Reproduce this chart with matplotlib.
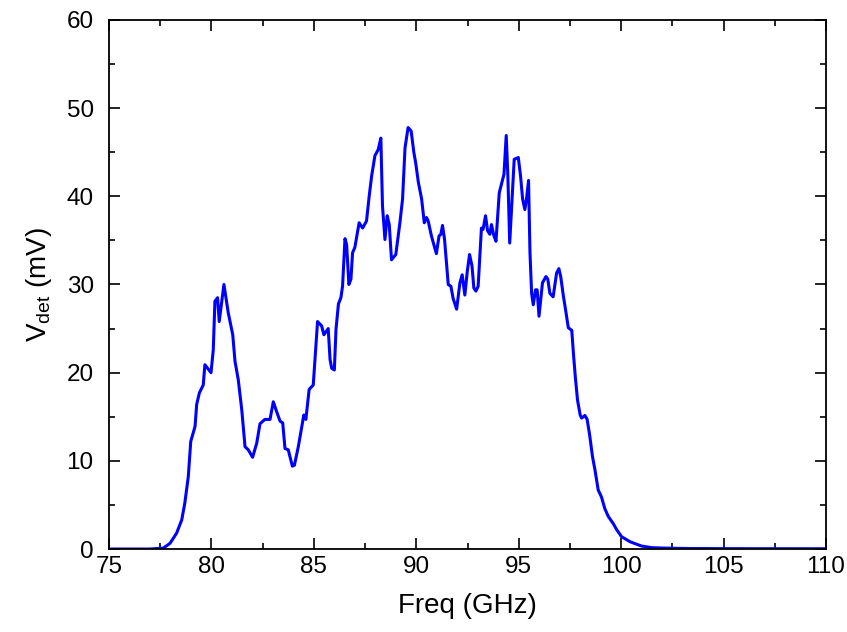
import matplotlib
matplotlib.use("Agg")
import matplotlib.pyplot as plt
from matplotlib.ticker import MultipleLocator

plt.rcParams['font.family'] = ['Liberation Sans', 'DejaVu Sans']
plt.rcParams['mathtext.fontset'] = 'custom'
plt.rcParams['mathtext.rm'] = 'Liberation Sans'
plt.rcParams['mathtext.it'] = 'Liberation Sans:italic'

# detector voltage spectrum
freq = [75.0, 76.0, 77.0, 77.65, 77.98, 78.3, 78.55, 78.7, 78.87, 78.99,
        79.2, 79.28, 79.41, 79.6, 79.68, 79.98, 80.09, 80.17, 80.3, 80.38,
        80.61, 80.82, 81.04, 81.15, 81.31, 81.48, 81.64, 81.8, 82.01, 82.21,
        82.37, 82.61, 82.86, 83.02, 83.18, 83.35, 83.48, 83.59, 83.75, 83.95,
        84.05, 84.24, 84.4, 84.51, 84.61, 84.77, 84.97, 85.18, 85.38, 85.49,
        85.7, 85.79, 85.87, 86.0, 86.08, 86.2, 86.32, 86.4, 86.52, 86.6,
        86.71, 86.81, 86.89, 87.0, 87.21, 87.38, 87.57, 87.7, 87.82, 87.98,
        88.14, 88.27, 88.35, 88.47, 88.58, 88.68, 88.79, 89.0, 89.2, 89.33,
        89.45, 89.6, 89.75, 89.88, 89.97, 90.1, 90.26, 90.39, 90.5, 90.58,
        90.74, 90.98, 91.11, 91.2, 91.28, 91.38, 91.47, 91.56, 91.69, 91.8,
        91.97, 92.13, 92.24, 92.37, 92.49, 92.6, 92.72, 92.81, 92.91, 93.02,
        93.18, 93.26, 93.38, 93.48, 93.59, 93.67, 93.78, 93.89, 94.05, 94.16,
        94.28, 94.39, 94.47, 94.56, 94.78, 94.98, 95.09, 95.19, 95.3, 95.38,
        95.48, 95.55, 95.63, 95.71, 95.82, 95.9, 95.99, 96.16, 96.33, 96.42,
        96.52, 96.68, 96.85, 96.96, 97.05, 97.18, 97.31, 97.42, 97.59, 97.67,
        97.76, 97.87, 98.0, 98.07, 98.23, 98.34, 98.47, 98.6, 98.72, 98.88,
        99.04, 99.2, 99.37, 99.61, 99.78, 100.02, 100.43, 100.99, 101.5, 102.2,
        103.2, 105.0, 107.5, 110.0]
vdet = [0.0, 0.0, 0.0, 0.1, 0.65, 1.8, 3.3, 5.2, 8.2, 12.2,
        13.9, 16.4, 17.7, 18.6, 20.9, 20.0, 22.6, 28.1, 28.5, 25.8,
        30.0, 26.8, 24.3, 21.3, 19.2, 15.8, 11.6, 11.25, 10.4, 12.0,
        14.2, 14.7, 14.7, 16.7, 15.6, 14.5, 14.3, 11.4, 11.25, 9.4,
        9.5, 11.6, 13.7, 15.2, 14.7, 18.1, 18.6, 25.8, 25.3, 24.3,
        25.0, 21.5, 20.5, 20.3, 24.9, 27.8, 28.5, 29.8, 35.2, 34.5,
        30.0, 30.6, 33.6, 34.2, 37.0, 36.4, 37.2, 40.0, 42.3, 44.6,
        45.3, 46.6, 38.9, 35.1, 37.8, 36.8, 32.8, 33.4, 37.0, 39.7,
        45.5, 47.8, 47.4, 45.0, 43.8, 41.6, 39.7, 37.0, 37.6, 37.2,
        35.5, 33.5, 35.5, 35.7, 36.7, 35.1, 32.5, 30.0, 29.8, 28.4,
        27.2, 30.2, 31.1, 28.8, 31.5, 33.4, 32.1, 29.6, 29.25, 29.8,
        36.4, 36.25, 37.8, 36.1, 35.7, 36.8, 35.6, 34.9, 40.4, 41.4,
        42.5, 46.9, 42.3, 34.7, 44.2, 44.4, 42.3, 39.7, 38.5, 39.7,
        41.8, 33.6, 29.0, 27.7, 29.4, 29.4, 26.4, 30.2, 30.9, 30.6,
        29.0, 28.6, 31.3, 31.8, 30.9, 28.7, 26.8, 25.1, 24.8, 22.2,
        19.6, 16.9, 15.2, 14.85, 15.15, 14.7, 12.8, 10.5, 9.0, 6.7,
        5.9, 4.6, 3.7, 2.9, 2.2, 1.4, 0.83, 0.34, 0.15, 0.1,
        0.06, 0.04, 0.03, 0.03]

fig = plt.figure(figsize=(8.47, 6.32), dpi=100)
ax = fig.add_axes([0.1287, 0.1313, 0.8465, 0.8371])

ax.plot(freq, vdet, color='#0000ff', linewidth=2.2)

ax.set_xlim(75, 110)
ax.set_ylim(0, 60)
ax.xaxis.set_major_locator(MultipleLocator(5))
ax.xaxis.set_minor_locator(MultipleLocator(2.5))
ax.yaxis.set_major_locator(MultipleLocator(10))
ax.yaxis.set_minor_locator(MultipleLocator(5))
ax.tick_params(which='both', direction='in', top=True, right=True,
               width=1.2, labelsize=17.5)
ax.tick_params(which='major', length=8)
ax.tick_params(which='minor', length=4)
ax.tick_params(axis='x', pad=5)
ax.tick_params(axis='y', pad=11)
for s in ax.spines.values():
    s.set_linewidth(1.3)

ax.set_xlabel("Freq (GHz)", fontsize=20)
ax.set_ylabel(r"V$_{\mathrm{det}}$ (mV)", fontsize=20)
ax.xaxis.set_label_coords(0.5, -0.084)
ax.yaxis.set_label_coords(-0.077, 0.5)

fig.savefig("out.png", dpi=100)
